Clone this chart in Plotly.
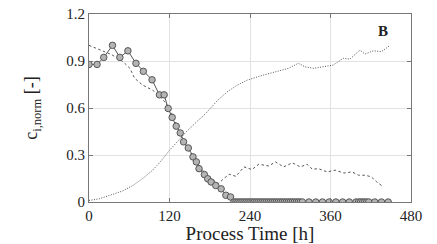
import plotly.graph_objects as go

# measured data (circles)
t_meas = [0, 12, 22, 35, 46, 58, 70, 81, 94, 105, 112, 118, 124, 130, 136, 141, 148, 155,
          160, 164, 172, 177, 182, 189, 197, 204, 211,
          216, 219, 222, 225, 228, 231, 234, 237, 240, 243, 246, 249, 252, 255, 258, 261,
          264, 267, 270, 273, 276, 279, 282, 285, 288, 291, 294, 297, 300, 303, 306, 309,
          312, 315, 318,
          328, 338, 348, 358, 368, 378, 388, 398,
          402, 405, 408, 411, 414, 417,
          426, 436, 446]
c_meas = [0.878, 0.878, 0.923, 1.0, 0.923, 0.965, 0.885, 0.834, 0.78, 0.684, 0.684, 0.597,
          0.54, 0.484, 0.441, 0.384, 0.345, 0.288, 0.256, 0.213, 0.175, 0.148, 0.128, 0.105,
          0.084, 0.043, 0.032] + [0.0] * 35 + [0.0] * 8 + [0.0] * 6 + [0.0] * 3

# model substrate (dashed)
t_dash = [0, 16, 34, 51, 61, 68, 80, 95, 105, 113, 120, 130, 140, 150, 160, 170, 180, 188,
          193, 201, 209, 219, 231, 243, 253, 268, 278, 290, 303, 315, 325, 333, 342, 355,
          367, 380, 392, 402, 412, 421, 429, 439]
c_dash = [1.0, 0.97, 0.94, 0.895, 0.853, 0.79, 0.746, 0.714, 0.676, 0.639, 0.597, 0.5, 0.40,
          0.32, 0.26, 0.2, 0.155, 0.13, 0.117, 0.15, 0.177, 0.164, 0.224, 0.207, 0.241, 0.23,
          0.256, 0.224, 0.25, 0.224, 0.241, 0.209, 0.213, 0.192, 0.203, 0.185, 0.192, 0.171,
          0.171, 0.16, 0.128, 0.096]

# product (dotted)
t_dot = [0, 15, 31, 50, 66, 80, 95, 108, 120, 132, 145, 160, 174, 192, 206, 221, 236, 255,
         280, 297, 312, 322, 335, 364, 379, 389, 404, 411, 424, 436, 449]
c_dot = [0.01, 0.02, 0.043, 0.07, 0.107, 0.15, 0.203, 0.265, 0.33, 0.39, 0.448, 0.51, 0.565,
         0.65, 0.703, 0.746, 0.778, 0.804, 0.831, 0.853, 0.885, 0.863, 0.853, 0.874, 0.917,
         0.912, 0.97, 0.944, 0.965, 0.96, 1.0]

x_ticks = [0, 120, 240, 360, 480]
y_ticks = [0, 0.3, 0.6, 0.9, 1.2]
y_tick_text = ["0", "0.3", "0.6", "0.9", "1.2"]

serif = "Liberation Serif"

fig = go.Figure()
fig.add_trace(go.Scatter(x=t_dot, y=c_dot, mode="lines",
                         line=dict(color="#555555", width=1, dash="1px,1.5px")))
fig.add_trace(go.Scatter(x=t_dash, y=c_dash, mode="lines",
                         line=dict(color="#555555", width=1, dash="2.5px,2.5px")))
fig.add_trace(go.Scatter(x=t_meas, y=c_meas, mode="lines+markers",
                         line=dict(color="#555555", width=1),
                         marker=dict(size=6.5, color="#b4b4b4",
                                     line=dict(color="#555555", width=1))))

fig.add_annotation(x=0.935, y=0.965, xref="paper", yref="paper", text="<b>B</b>",
                   showarrow=False, font=dict(family=serif, size=15, color="#222222"))

# page body has an 8px margin, so the figure is sized/offset to compensate
fig.update_layout(
    width=429, height=236,
    margin=dict(l=81, r=26, t=6, b=42, autoexpand=False),
    paper_bgcolor="white", plot_bgcolor="white",
    showlegend=False,
    font=dict(family=serif, color="#222222"),
    xaxis=dict(range=[0, 480], tickvals=x_ticks, ticks="inside", ticklen=4,
               tickcolor="#777777", mirror="ticks", showline=True, linecolor="#777777",
               linewidth=1, showgrid=True, gridcolor="#e2e2e2", zeroline=False,
               automargin=True, ticklabeloverflow="allow",
               tickfont=dict(family=serif, size=15, color="#222222"),
               title=dict(text="Process Time [h]", standoff=1,
                          font=dict(family=serif, size=19, color="#222222"))),
    yaxis=dict(range=[0, 1.2], tickvals=y_ticks, ticktext=y_tick_text, ticks="inside",
               ticklen=4, tickcolor="#777777", mirror="ticks", showline=True,
               linecolor="#777777", linewidth=1, showgrid=True, gridcolor="#e2e2e2",
               zeroline=False, automargin=True, ticklabeloverflow="allow",
               tickfont=dict(family=serif, size=15, color="#222222"),
               title=dict(text="c<sub>i,norm</sub> [-]", standoff=23,
                          font=dict(family=serif, size=18, color="#222222"))),
)

fig.write_html("out.html")
